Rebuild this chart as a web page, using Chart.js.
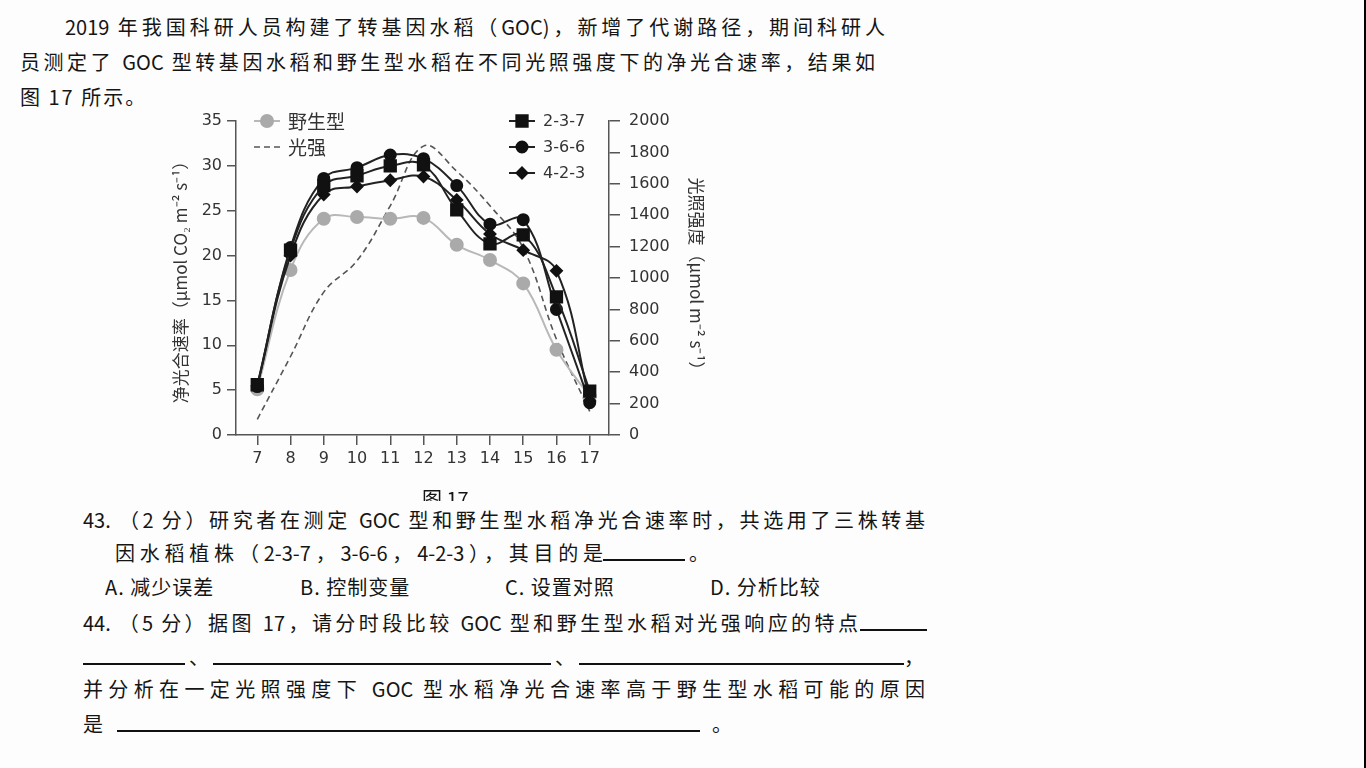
<!DOCTYPE html>
<html lang="zh">
<head>
<meta charset="utf-8">
<title>图 17</title>
<script src="https://cdn.jsdelivr.net/npm/chart.js@4.4.1/dist/chart.umd.min.js"></script>
<style>
  html, body { margin: 0; padding: 0; }
  body {
    width: 1366px; height: 768px; overflow: hidden; position: relative;
    background: #fdfdfd; color: #151515;
    font-family: "Noto Sans CJK SC", "Noto Sans", sans-serif;
  }
  .ln { position: absolute; white-space: nowrap; font-size: 20px; line-height: 28px; }
  .just { text-align: justify; text-align-last: justify; }
  .ul { display: inline-block; border-bottom: 2px solid #111; height: 22px; vertical-align: baseline; }
  #edge { position: absolute; left: 1364px; top: 0; width: 2px; height: 768px; background: #000; }
  #wrap { position: absolute; left: 160px; top: 100px; width: 560px; height: 400px; }
  #fig { position: absolute; left: 410px; top: 480px; width: 80px; height: 21px; overflow: hidden; }
  #fig span { position: absolute; left: 12px; top: 9px; font-size: 20px; line-height: 20px; }
</style>
</head>
<body>
<div class="ln just" style="left:65px; top:13px; width:820px;">2019 年我国科研人员构建了转基因水稻（GOC)，新增了代谢路径，期间科研人</div>
<div class="ln just" style="left:20px; top:48px; width:855px;">员测定了 GOC 型转基因水稻和野生型水稻在不同光照强度下的净光合速率，结果如</div>
<div class="ln" style="left:20px; top:83px; letter-spacing:2px;">图 17 所示。</div>

<div id="wrap"><canvas id="chart" width="560" height="400"></canvas></div>
<div id="fig"><span>图 17</span></div>

<div class="ln just" style="left:83px; top:506px; width:842px;">43. （2 分）研究者在测定 GOC 型和野生型水稻净光合速率时，共选用了三株转基</div>
<div class="ln" style="left:115px; top:537px;"><span class="just" style="display:inline-block; width:488px;">因水稻植株（2-3-7，3-6-6，4-2-3），其目的是</span><span class="ul" style="width:82px;"></span><span style="margin-left:4px;">。</span></div>
<div class="ln" style="left:105px; top:573px; letter-spacing:1px;">A. 减少误差</div>
<div class="ln" style="left:300px; top:573px; letter-spacing:1px;">B. 控制变量</div>
<div class="ln" style="left:505px; top:573px; letter-spacing:1px;">C. 设置对照</div>
<div class="ln" style="left:710px; top:573px; letter-spacing:1px;">D. 分析比较</div>
<div class="ln" style="left:83px; top:607px;"><span class="just" style="display:inline-block; width:775px;">44. （5 分）据图 17，请分时段比较 GOC 型和野生型水稻对光强响应的特点</span><span class="ul" style="width:67px; margin-left:2px;"></span></div>
<div class="ln" style="left:83px; top:641px;"><span class="ul" style="width:102px;"></span><span style="margin:0 4px 0 4px;">、</span><span class="ul" style="width:338px;"></span><span style="margin:0 4px 0 4px;">、</span><span class="ul" style="width:325px;"></span><span>，</span></div>
<div class="ln just" style="left:83px; top:675px; width:842px;">并分析在一定光照强度下 GOC 型水稻净光合速率高于野生型水稻可能的原因</div>
<div class="ln" style="left:83px; top:708px;"><span>是</span><span class="ul" style="width:583px; margin-left:14px;"></span><span style="margin-left:12px;">。</span></div>

<div id="edge"></div>

<script>
// 数据
const hours = [7, 8, 9, 10, 11, 12, 13, 14, 15, 16, 17];
const wildType = [5.1, 18.4, 24.1, 24.3, 24.1, 24.2, 21.2, 19.5, 16.9, 9.5, 4.3];
const line237 = [5.6, 20.6, 27.8, 28.9, 30.0, 30.1, 25.1, 21.3, 22.3, 15.4, 4.9];
const line366 = [5.4, 20.9, 28.6, 29.8, 31.2, 30.8, 27.8, 23.5, 24.0, 14.0, 3.6];
const line423 = [5.5, 20.0, 26.8, 27.7, 28.4, 28.8, 26.2, 22.4, 20.6, 18.3, 3.8];
const lightIntensity = [100, 500, 910, 1110, 1460, 1840, 1680, 1460, 1190, 610, 150];

const rateTicks = [0, 5, 10, 15, 20, 25, 30, 35];
const lightTicks = [0, 200, 400, 600, 800, 1000, 1200, 1400, 1600, 1800, 2000];

const toPoints = (arr) => arr.map((v, i) => ({ x: hours[i], y: v }));

const tickFont = { family: "DejaVu Sans", size: 16 };
const axisColor = "#555";
const dark = "#222";

// 图例（画在图内部）
const innerLegend = {
  id: "innerLegend",
  afterDraw(chart) {
    const ctx = chart.ctx;
    const items = [
      { ds: 3, x: 107, y: 21, font: '19px "Noto Sans CJK SC"' },
      { ds: 4, x: 107, y: 47, font: '19px "Noto Sans CJK SC"' },
      { ds: 0, x: 362, y: 21, font: '16px "DejaVu Sans"' },
      { ds: 1, x: 362, y: 47, font: '16px "DejaVu Sans"' },
      { ds: 2, x: 362, y: 73, font: '16px "DejaVu Sans"' },
    ];
    ctx.save();
    items.forEach((it) => {
      const d = chart.data.datasets[it.ds];
      ctx.strokeStyle = d.borderColor;
      ctx.lineWidth = d.borderWidth;
      ctx.setLineDash(d.borderDash || []);
      ctx.beginPath();
      ctx.moveTo(it.x - 13, it.y);
      ctx.lineTo(it.x + 13, it.y);
      ctx.stroke();
      ctx.setLineDash([]);
      if (d.pointRadius > 0) {
        ctx.fillStyle = d.pointBackgroundColor;
        ctx.strokeStyle = d.pointBorderColor;
        Chart.helpers.drawPoint(ctx, {
          pointStyle: d.pointStyle, radius: d.pointRadius, rotation: 0, borderWidth: 1,
        }, it.x, it.y);
      }
      ctx.fillStyle = "#333";
      ctx.font = it.font;
      ctx.textBaseline = "middle";
      ctx.textAlign = "left";
      ctx.fillText(d.label, it.x + 21, it.y + 1);
    });
    ctx.restore();
  },
};

const ctx = document.getElementById("chart").getContext("2d");

const chart = new Chart(ctx, {
  type: "line",
  data: {
    datasets: [
      {
        label: "2-3-7",
        data: toPoints(line237),
        yAxisID: "y",
        borderColor: dark, borderWidth: 2,
        pointStyle: "rect", pointRadius: 8,
        pointBackgroundColor: "#111", pointBorderColor: "#111",
        tension: 0.4,
      },
      {
        label: "3-6-6",
        data: toPoints(line366),
        yAxisID: "y",
        borderColor: dark, borderWidth: 2,
        pointStyle: "circle", pointRadius: 5.5,
        pointBackgroundColor: "#111", pointBorderColor: "#111",
        tension: 0.4,
      },
      {
        label: "4-2-3",
        data: toPoints(line423),
        yAxisID: "y",
        borderColor: dark, borderWidth: 2,
        pointStyle: "rectRot", pointRadius: 5.5,
        pointBackgroundColor: "#111", pointBorderColor: "#111",
        tension: 0.4,
      },
      {
        label: "野生型",
        data: toPoints(wildType),
        yAxisID: "y",
        borderColor: "#b8b8b8", borderWidth: 2,
        pointStyle: "circle", pointRadius: 6,
        pointBackgroundColor: "#aaaaaa", pointBorderColor: "#aaaaaa",
        tension: 0.4,
      },
      {
        label: "光强",
        data: toPoints(lightIntensity),
        yAxisID: "y1",
        borderColor: "#555", borderWidth: 1.6, borderDash: [6, 4],
        pointRadius: 0,
        tension: 0.4,
      },
    ],
  },
  options: {
    responsive: false,
    animation: false,
    layout: { padding: { top: 21, left: 0, right: 0, bottom: 0 } },
    plugins: {
      legend: { display: false },
      tooltip: { enabled: false },
    },
    scales: {
      x: {
        type: "linear",
        min: 6.36,
        max: 17.58,
        afterFit: (s) => { s.height = 65; },
        afterBuildTicks: (s) => {
          s.ticks = hours.map((h) => ({ value: h }));
        },
        ticks: { color: "#333", font: tickFont, padding: 4, autoSkip: false, maxRotation: 0 },
        grid: { drawOnChartArea: false, tickLength: 10, color: axisColor, lineWidth: 1.5 },
        border: { color: axisColor, width: 1.5 },
      },
      y: {
        position: "left",
        min: 0,
        max: 35,
        afterFit: (s) => { s.width = 76; },
        afterBuildTicks: (s) => {
          s.ticks = rateTicks.map((v) => ({ value: v }));
        },
        ticks: { color: "#333", font: tickFont, padding: 5 },
        grid: { drawOnChartArea: false, tickLength: 9, color: axisColor, lineWidth: 1.5 },
        border: { color: axisColor, width: 1.5 },
        title: {
          display: true,
          text: "净光合速率（μmol CO₂ m⁻² s⁻¹）",
          color: "#333",
          font: { family: "Noto Sans CJK SC", size: 17 },
          padding: { top: 10 },
        },
      },
      y1: {
        position: "right",
        min: 0,
        max: 2000,
        afterFit: (s) => { s.width = 111; },
        afterBuildTicks: (s) => {
          s.ticks = lightTicks.map((v) => ({ value: v }));
        },
        ticks: { color: "#333", font: tickFont, padding: 9, callback: (v) => String(v) },
        grid: { drawOnChartArea: false, tickLength: 11, color: axisColor, lineWidth: 1.5 },
        border: { color: axisColor, width: 1.5 },
        title: {
          display: true,
          text: "光照强度（μmol m⁻² s⁻¹）",
          color: "#333",
          font: { family: "Noto Sans CJK SC", size: 17 },
          padding: { top: 13 },
        },
      },
    },
  },
  plugins: [innerLegend],
});
</script>
</body>
</html>
